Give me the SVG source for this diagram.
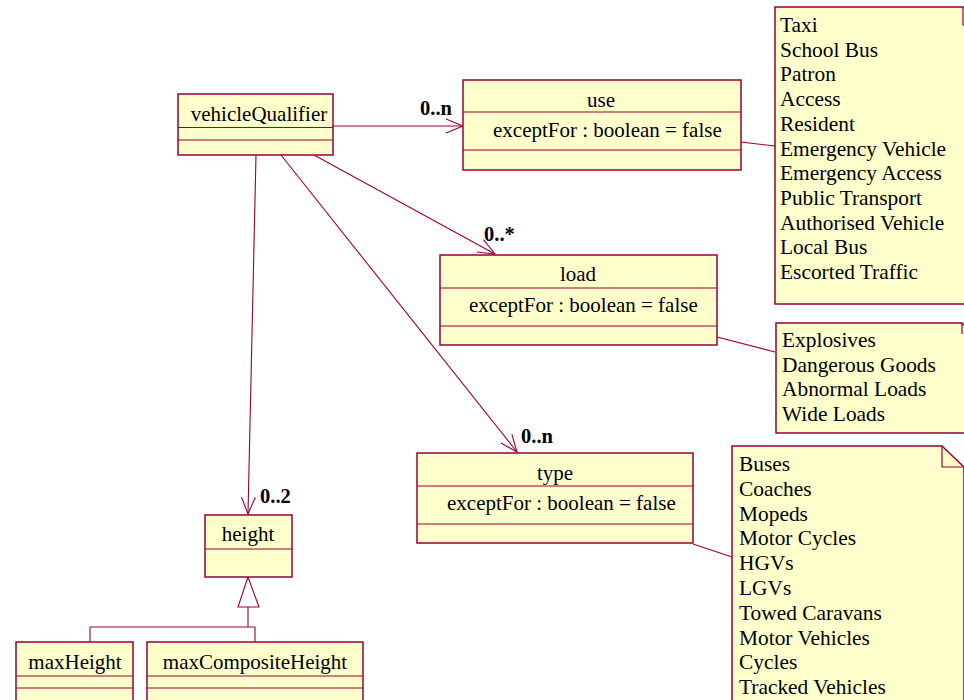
<svg xmlns="http://www.w3.org/2000/svg" width="964" height="700" viewBox="0 0 964 700">
<style>
.box{fill:#ffffcc;stroke:#990033;stroke-width:1.5}
.sep{stroke:#990033;stroke-width:1.2;fill:none}
.ln{stroke:#990033;stroke-width:1.1;fill:none}
.t{font-family:"Liberation Serif","Times New Roman",serif;font-size:21px;fill:#000}
.n{font-size:21.4px}
.c{text-anchor:middle}
.m{font-family:"Liberation Serif","Times New Roman",serif;font-size:20.5px;font-weight:bold;fill:#000}
</style>
<defs>
<marker id="open" markerUnits="userSpaceOnUse" markerWidth="20" markerHeight="16" viewBox="0 0 20 16" refX="18" refY="8" orient="auto">
<path d="M1,1 L18,8 L1,15" fill="none" stroke="#990033" stroke-width="1.1"/>
</marker>
</defs>
<rect width="964" height="700" fill="#ffffff"/>

<g id="connectors">
<line class="ln" x1="333" y1="126" x2="463" y2="126" marker-end="url(#open)"/>
<line class="ln" x1="314" y1="155" x2="495" y2="254" marker-end="url(#open)"/>
<line class="ln" x1="281" y1="155" x2="517" y2="452" marker-end="url(#open)"/>
<line class="ln" x1="256" y1="155" x2="248" y2="514" marker-end="url(#open)"/>
<line class="ln" x1="741" y1="142" x2="775" y2="146"/>
<line class="ln" x1="717" y1="337" x2="775" y2="352"/>
<line class="ln" x1="693" y1="544" x2="732" y2="557"/>
<path class="ln" d="M238,607 L248,577 L259,607 Z" fill="#ffffff"/>
<path class="ln" d="M248,607 L248,627 M90,627 L255,627 M90,627 L90,642 M255,627 L255,642"/>
<text class="m" x="420" y="115">0..n</text>
<text class="m" x="484" y="241">0..*</text>
<text class="m" x="521" y="443">0..n</text>
<text class="m" x="260" y="503">0..2</text>
</g>

<g id="vehicleQualifier">
<rect class="box" x="178" y="94" width="155" height="61"/>
<path class="sep" d="M178,127.5 H333 M178,140 H333"/>
<text class="t c" x="259" y="121">vehicleQualifier</text>
</g>

<g id="use">
<rect class="box" x="463" y="80" width="278" height="90"/>
<path class="sep" d="M463,112 H741 M463,150 H741"/>
<text class="t c" x="601" y="107">use</text>
<text class="t" x="493" y="137">exceptFor : boolean = false</text>
</g>

<g id="load">
<rect class="box" x="440" y="255" width="277" height="90"/>
<path class="sep" d="M440,288 H717 M440,326 H717"/>
<text class="t c" x="578" y="281">load</text>
<text class="t" x="469" y="312">exceptFor : boolean = false</text>
</g>

<g id="type">
<rect class="box" x="417" y="453" width="276" height="90"/>
<path class="sep" d="M417,486 H693 M417,524 H693"/>
<text class="t c" x="555" y="480">type</text>
<text class="t" x="447" y="510">exceptFor : boolean = false</text>
</g>

<g id="height">
<rect class="box" x="205" y="515" width="87" height="62"/>
<path class="sep" d="M205,549 H292"/>
<text class="t c" x="248" y="541">height</text>
</g>

<g id="maxHeight">
<rect class="box" x="16" y="642" width="117" height="70"/>
<path class="sep" d="M16,676 H133 M16,688 H133"/>
<text class="t c" x="75" y="669">maxHeight</text>
</g>

<g id="maxCompositeHeight">
<rect class="box" x="147" y="642" width="216" height="70"/>
<path class="sep" d="M147,676 H363 M147,688 H363"/>
<text class="t c" x="255" y="669">maxCompositeHeight</text>
</g>

<g id="note-use">
<path class="box" d="M775,7 L963,7 L981,25 L981,304 L775,304 Z"/>
<path class="sep" d="M963,7 L963,25 L981,25"/>
<text class="t n" x="780" y="32">Taxi</text>
<text class="t n" x="780" y="56.7">School Bus</text>
<text class="t n" x="780" y="81.4">Patron</text>
<text class="t n" x="780" y="106.1">Access</text>
<text class="t n" x="780" y="130.8">Resident</text>
<text class="t n" x="780" y="155.5">Emergency Vehicle</text>
<text class="t n" x="780" y="180.2">Emergency Access</text>
<text class="t n" x="780" y="204.9">Public Transport</text>
<text class="t n" x="780" y="229.6">Authorised Vehicle</text>
<text class="t n" x="780" y="254.3">Local Bus</text>
<text class="t n" x="780" y="279">Escorted Traffic</text>
</g>

<g id="note-load">
<path class="box" d="M776,323 L962,323 L980,341 L980,433 L776,433 Z"/>
<path class="sep" d="M962,323 L962,334"/>
<text class="t n" x="782" y="347">Explosives</text>
<text class="t n" x="782" y="372">Dangerous Goods</text>
<text class="t n" x="782" y="396">Abnormal Loads</text>
<text class="t n" x="782" y="421">Wide Loads</text>
</g>

<g id="note-type">
<path class="box" d="M732,446 L942,446 L964,467 L964,712 L732,712 Z"/>
<path class="sep" d="M942,446 L942,467 L964,467"/>
<text class="t n" x="739" y="471">Buses</text>
<text class="t n" x="739" y="495.8">Coaches</text>
<text class="t n" x="739" y="520.6">Mopeds</text>
<text class="t n" x="739" y="545.4">Motor Cycles</text>
<text class="t n" x="739" y="570.2">HGVs</text>
<text class="t n" x="739" y="595">LGVs</text>
<text class="t n" x="739" y="619.8">Towed Caravans</text>
<text class="t n" x="739" y="644.6">Motor Vehicles</text>
<text class="t n" x="739" y="669.4">Cycles</text>
<text class="t n" x="739" y="694.2">Tracked Vehicles</text>
</g>
</svg>
